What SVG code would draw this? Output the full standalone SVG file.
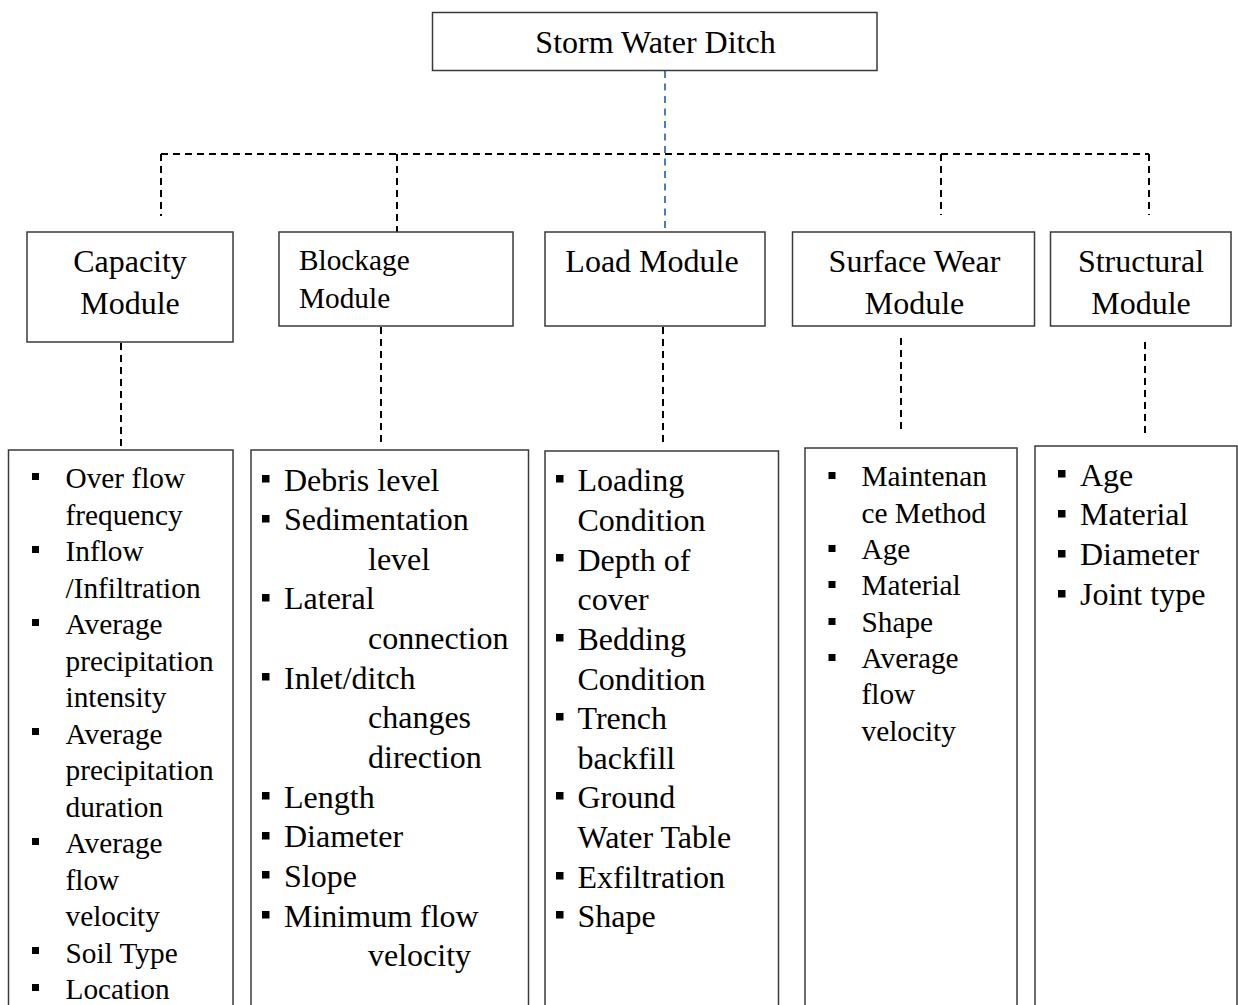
<svg xmlns="http://www.w3.org/2000/svg" width="1238" height="1005" viewBox="0 0 1238 1005">
<style>
.box{fill:#fff;stroke:#3a3a3a;stroke-width:1.5}
.t{font-family:"Liberation Serif","Times New Roman",serif;fill:#000}
.c{text-anchor:middle}
.f32{font-size:32px}
.f29{font-size:29.3px}
.dash{fill:none;stroke:#000;stroke-width:2;stroke-dasharray:7 5}
.blue{fill:none;stroke:#4a7ebb;stroke-width:2;stroke-dasharray:7 5.5}
.b{fill:#000}
</style>
<rect width="1238" height="1005" fill="#fff"/>
<g id="connectors">
<path class="dash" d="M161,154 H1149"/>
<path class="dash" d="M161,154 V216"/>
<path class="dash" d="M397,154 V232"/>
<path class="dash" d="M941,154 V215"/>
<path class="dash" d="M1149,154 V215"/>
<path class="blue" d="M665,71 V232"/>
<path class="dash" d="M121,343 V450"/>
<path class="dash" d="M381,327 V447"/>
<path class="dash" d="M663,327 V447"/>
<path class="dash" d="M901,338 V431"/>
<path class="dash" d="M1145,342 V434"/>
</g>
<g id="storm-water-ditch">
<rect class="box" x="432.5" y="12.5" width="444.5" height="58"/>
<text class="t c f32" x="655.5" y="53">Storm Water Ditch</text>
</g>
<g id="capacity-module">
<rect class="box" x="27" y="232" width="206" height="110"/>
<text class="t c f32" x="130" y="272">Capacity</text>
<text class="t c f32" x="130" y="314">Module</text>
</g>
<g id="blockage-module">
<rect class="box" x="279" y="232" width="234" height="94"/>
<text class="t f29" x="299" y="270">Blockage</text>
<text class="t f29" x="299" y="308">Module</text>
</g>
<g id="load-module">
<rect class="box" x="545" y="232" width="220" height="94"/>
<text class="t c f32" x="652" y="272">Load Module</text>
</g>
<g id="surface-wear-module">
<rect class="box" x="792.5" y="232" width="242" height="94"/>
<text class="t c f32" x="914.5" y="272">Surface Wear</text>
<text class="t c f32" x="914.5" y="314">Module</text>
</g>
<g id="structural-module">
<rect class="box" x="1050.5" y="232" width="180.5" height="94"/>
<text class="t c f32" x="1141" y="272">Structural</text>
<text class="t c f32" x="1141" y="314">Module</text>
</g>
<g id="capacity-list">
<rect class="box" x="8.5" y="450" width="224.5" height="580"/>
<rect class="b" x="32" y="473" width="7" height="7"/>
<rect class="b" x="32" y="546" width="7" height="7"/>
<rect class="b" x="32" y="619" width="7" height="7"/>
<rect class="b" x="32" y="728" width="7" height="7"/>
<rect class="b" x="32" y="838" width="7" height="7"/>
<rect class="b" x="32" y="947" width="7" height="7"/>
<rect class="b" x="32" y="984" width="7" height="7"/>
<text class="t f29" x="65.5" y="488">Over flow</text>
<text class="t f29" x="65.5" y="524.5">frequency</text>
<text class="t f29" x="65.5" y="561">Inflow</text>
<text class="t f29" x="65.5" y="597.5">/Infiltration</text>
<text class="t f29" x="65.5" y="634">Average</text>
<text class="t f29" x="65.5" y="670.5">precipitation</text>
<text class="t f29" x="65.5" y="707">intensity</text>
<text class="t f29" x="65.5" y="743.5">Average</text>
<text class="t f29" x="65.5" y="780">precipitation</text>
<text class="t f29" x="65.5" y="816.5">duration</text>
<text class="t f29" x="65.5" y="853">Average</text>
<text class="t f29" x="65.5" y="889.5">flow</text>
<text class="t f29" x="65.5" y="926">velocity</text>
<text class="t f29" x="65.5" y="962.5">Soil Type</text>
<text class="t f29" x="65.5" y="999">Location</text>
</g>
<g id="blockage-list">
<rect class="box" x="251" y="450" width="277.5" height="580"/>
<rect class="b" x="262" y="475" width="7.5" height="7.5"/>
<rect class="b" x="262" y="515" width="7.5" height="7.5"/>
<rect class="b" x="262" y="594" width="7.5" height="7.5"/>
<rect class="b" x="262" y="673" width="7.5" height="7.5"/>
<rect class="b" x="262" y="792" width="7.5" height="7.5"/>
<rect class="b" x="262" y="832" width="7.5" height="7.5"/>
<rect class="b" x="262" y="871" width="7.5" height="7.5"/>
<rect class="b" x="262" y="911" width="7.5" height="7.5"/>
<text class="t f32" x="284" y="490.5">Debris level</text>
<text class="t f32" x="284" y="530">Sedimentation</text>
<text class="t f32" x="368" y="570">level</text>
<text class="t f32" x="284" y="609">Lateral</text>
<text class="t f32" x="368" y="649">connection</text>
<text class="t f32" x="284" y="688.5">Inlet/ditch</text>
<text class="t f32" x="368" y="728">changes</text>
<text class="t f32" x="368" y="768">direction</text>
<text class="t f32" x="284" y="807.5">Length</text>
<text class="t f32" x="284" y="847">Diameter</text>
<text class="t f32" x="284" y="887">Slope</text>
<text class="t f32" x="284" y="926.5">Minimum flow</text>
<text class="t f32" x="368" y="966">velocity</text>
</g>
<g id="load-list">
<rect class="box" x="545" y="451" width="233.5" height="580"/>
<rect class="b" x="556" y="475" width="7.5" height="7.5"/>
<rect class="b" x="556" y="554" width="7.5" height="7.5"/>
<rect class="b" x="556" y="634" width="7.5" height="7.5"/>
<rect class="b" x="556" y="713" width="7.5" height="7.5"/>
<rect class="b" x="556" y="792" width="7.5" height="7.5"/>
<rect class="b" x="556" y="872" width="7.5" height="7.5"/>
<rect class="b" x="556" y="911" width="7.5" height="7.5"/>
<text class="t f32" x="577.5" y="491">Loading</text>
<text class="t f32" x="577.5" y="530.5">Condition</text>
<text class="t f32" x="577.5" y="570.5">Depth of</text>
<text class="t f32" x="577.5" y="610">cover</text>
<text class="t f32" x="577.5" y="649.5">Bedding</text>
<text class="t f32" x="577.5" y="689.5">Condition</text>
<text class="t f32" x="577.5" y="729">Trench</text>
<text class="t f32" x="577.5" y="768.5">backfill</text>
<text class="t f32" x="577.5" y="808">Ground</text>
<text class="t f32" x="577.5" y="848">Water Table</text>
<text class="t f32" x="577.5" y="887.5">Exfiltration</text>
<text class="t f32" x="577.5" y="927">Shape</text>
</g>
<g id="surface-wear-list">
<rect class="box" x="805" y="448" width="212" height="580"/>
<rect class="b" x="828.5" y="472" width="7" height="7"/>
<rect class="b" x="828.5" y="545" width="7" height="7"/>
<rect class="b" x="828.5" y="581" width="7" height="7"/>
<rect class="b" x="828.5" y="618" width="7" height="7"/>
<rect class="b" x="828.5" y="654" width="7" height="7"/>
<text class="t f29" x="861.5" y="486">Maintenan</text>
<text class="t f29" x="861.5" y="522.5">ce Method</text>
<text class="t f29" x="861.5" y="559">Age</text>
<text class="t f29" x="861.5" y="595">Material</text>
<text class="t f29" x="861.5" y="631.5">Shape</text>
<text class="t f29" x="861.5" y="668">Average</text>
<text class="t f29" x="861.5" y="704">flow</text>
<text class="t f29" x="861.5" y="740.5">velocity</text>
</g>
<g id="structural-list">
<rect class="box" x="1035" y="446" width="202" height="580"/>
<rect class="b" x="1058" y="470" width="7.5" height="7.5"/>
<rect class="b" x="1058" y="510" width="7.5" height="7.5"/>
<rect class="b" x="1058" y="550" width="7.5" height="7.5"/>
<rect class="b" x="1058" y="590" width="7.5" height="7.5"/>
<text class="t f32" x="1080" y="485.5">Age</text>
<text class="t f32" x="1080" y="525">Material</text>
<text class="t f32" x="1080" y="565">Diameter</text>
<text class="t f32" x="1080" y="604.5">Joint type</text>
</g>
</svg>
